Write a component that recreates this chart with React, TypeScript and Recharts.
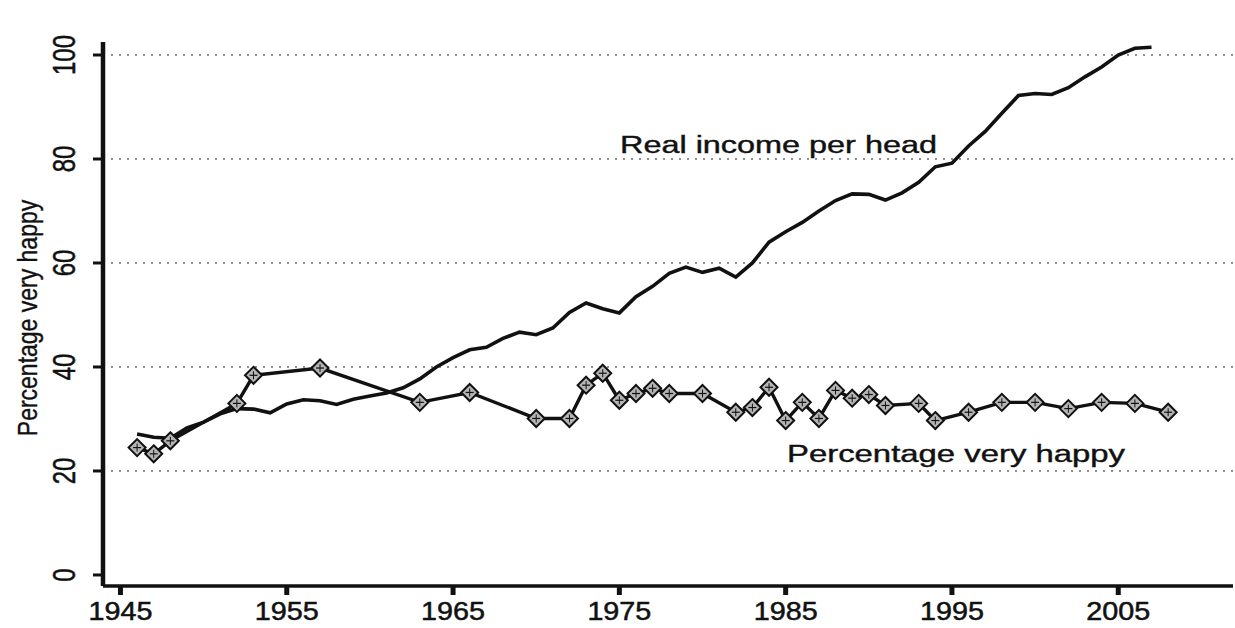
import React from 'react';
import { LineChart, Line, XAxis, YAxis, ReferenceLine } from 'recharts';

const incomeYears = [
  1946, 1947, 1948, 1949, 1950, 1951, 1952, 1953, 1954, 1955, 1956, 1957, 1958, 1959, 1960,
  1961, 1962, 1963, 1964, 1965, 1966, 1967, 1968, 1969, 1970, 1971, 1972, 1973, 1974, 1975,
  1976, 1977, 1978, 1979, 1980, 1981, 1982, 1983, 1984, 1985, 1986, 1987, 1988, 1989, 1990,
  1991, 1992, 1993, 1994, 1995, 1996, 1997, 1998, 1999, 2000, 2001, 2002, 2003, 2004, 2005,
  2006, 2007,
];
const incomeValues = [
  27.1, 26.5, 26.3, 28.3, 29.4, 31.0, 32.0, 31.9, 31.2, 32.9, 33.7, 33.5, 32.8, 33.8, 34.4,
  35.0, 36.0, 37.7, 40.0, 41.8, 43.3, 43.8, 45.5, 46.7, 46.2, 47.5, 50.5, 52.3, 51.2, 50.4,
  53.5, 55.5, 58.0, 59.2, 58.2, 59.0, 57.3, 60.0, 64.0, 66.0, 67.8, 70.0, 72.0, 73.3, 73.2,
  72.1, 73.5, 75.5, 78.5, 79.2, 82.5, 85.3, 88.8, 92.2, 92.6, 92.4, 93.7, 95.8, 97.7, 100.0,
  101.3, 101.5,
];

const happyYears = [
  1946, 1947, 1948, 1952, 1953, 1957, 1963, 1966, 1970, 1972, 1973, 1974, 1975, 1976, 1977,
  1978, 1980, 1982, 1983, 1984, 1985, 1986, 1987, 1988, 1989, 1990, 1991, 1993, 1994, 1996,
  1998, 2000, 2002, 2004, 2006, 2008,
];
const happyValues = [
  24.5, 23.3, 25.8, 33.0, 38.4, 39.8, 33.2, 35.1, 30.1, 30.1, 36.5, 38.8, 33.6, 34.9, 35.9,
  34.9, 34.9, 31.3, 32.2, 36.1, 29.7, 33.2, 30.1, 35.5, 34.0, 34.7, 32.6, 33.0, 29.7, 31.3,
  33.2, 33.2, 32.0, 33.2, 33.0, 31.3,
];

const xTicks = [1945, 1955, 1965, 1975, 1985, 1995, 2005];
const yTicks = [0, 20, 40, 60, 80, 100];
const gridValues = [20, 40, 60, 80, 100];

const incomeData = incomeYears.map((year, i) => ({ year, v: incomeValues[i] }));
const happyData = happyYears.map((year, i) => ({ year, v: happyValues[i] }));

const FONT = '"Liberation Sans", Arial, Helvetica, sans-serif';
const INK = '#111';

const XTick = (props: any) => {
  const { x, y, payload } = props;
  return (
    <text
      transform={`translate(${x},${y + 23}) scale(1.15,1)`}
      textAnchor="middle"
      fontSize={25}
      fontFamily={FONT}
      fill={INK}
      stroke={INK}
      strokeWidth={0.5}
    >
      {payload.value}
    </text>
  );
};

const YTick = (props: any) => {
  const { x, y, payload } = props;
  return (
    <text
      transform={`translate(${x - 16},${y}) scale(1.3,1) rotate(-90)`}
      textAnchor="middle"
      fontSize={24}
      fontFamily={FONT}
      fill={INK}
      stroke={INK}
      strokeWidth={0.4}
    >
      {payload.value}
    </text>
  );
};

const Diamond = (props: any) => {
  const { cx, cy, index } = props;
  if (cx == null || cy == null) return <g key={`d-${index}`} />;
  const w = 8.5;
  const h = 8.5;
  return (
    <g key={`d-${index}`}>
      <polygon
        points={`${cx},${cy - h} ${cx + w},${cy} ${cx},${cy + h} ${cx - w},${cy}`}
        fill="#b5b5b5"
        stroke={INK}
        strokeWidth={2}
      />
      <line x1={cx - 4} y1={cy} x2={cx + 4} y2={cy} stroke={INK} strokeWidth={1.2} />
      <line x1={cx} y1={cy - 4} x2={cx} y2={cy + 4} stroke={INK} strokeWidth={1} />
    </g>
  );
};

export default function App() {
  return (
    <div style={{ position: 'absolute', left: 0, top: 0, width: 1235, height: 628, background: '#fff' }}>
      <LineChart
        width={1235}
        height={628}
        margin={{ top: 42, right: 2, bottom: 0, left: 3 }}
      >
        <XAxis
          type="number"
          dataKey="year"
          domain={[1943.95, 2011.9]}
          ticks={xTicks}
          allowDataOverflow
          height={42}
          tickSize={9}
          tickMargin={2}
          tick={<XTick />}
          axisLine={{ stroke: INK, strokeWidth: 3.5 }}
          tickLine={{ stroke: INK, strokeWidth: 5 }}
        />
        <YAxis
          type="number"
          domain={[-2.12, 102.5]}
          ticks={yTicks}
          allowDataOverflow
          width={100}
          tickSize={10}
          tickMargin={2}
          tick={<YTick />}
          axisLine={{ stroke: INK, strokeWidth: 4.5 }}
          tickLine={{ stroke: INK, strokeWidth: 3 }}
        />
        {gridValues.map((g) => (
          <ReferenceLine
            key={g}
            y={g}
            stroke="#6a6a6a"
            strokeWidth={1.3}
            strokeDasharray="2 6"
          />
        ))}
        <Line
          data={incomeData}
          dataKey="v"
          type="linear"
          stroke={INK}
          strokeWidth={3.6}
          dot={false}
          isAnimationActive={false}
        />
        <Line
          data={happyData}
          dataKey="v"
          type="linear"
          stroke={INK}
          strokeWidth={3.4}
          dot={(p: any) => <Diamond key={`dot-${p.index}`} {...p} />}
          isAnimationActive={false}
        />
      </LineChart>
      <svg
        width={1235}
        height={628}
        style={{ position: 'absolute', left: 0, top: 0, pointerEvents: 'none' }}
      >
        <text
          transform="translate(37,318) scale(1.2,1) rotate(-90)"
          textAnchor="middle"
          fontSize={23}
          fontFamily={FONT}
          fill={INK}
          stroke={INK}
          strokeWidth={0.3}
        >
          Percentage very happy
        </text>
        <text
          x={620}
          y={153}
          fontSize={23}
          fontFamily={FONT}
          fill={INK}
          stroke={INK}
          strokeWidth={0.4}
          textLength={317}
          lengthAdjust="spacingAndGlyphs"
        >
          Real income per head
        </text>
        <text
          x={787}
          y={462}
          fontSize={23}
          fontFamily={FONT}
          fill={INK}
          stroke={INK}
          strokeWidth={0.4}
          textLength={338}
          lengthAdjust="spacingAndGlyphs"
        >
          Percentage very happy
        </text>
      </svg>
    </div>
  );
}
